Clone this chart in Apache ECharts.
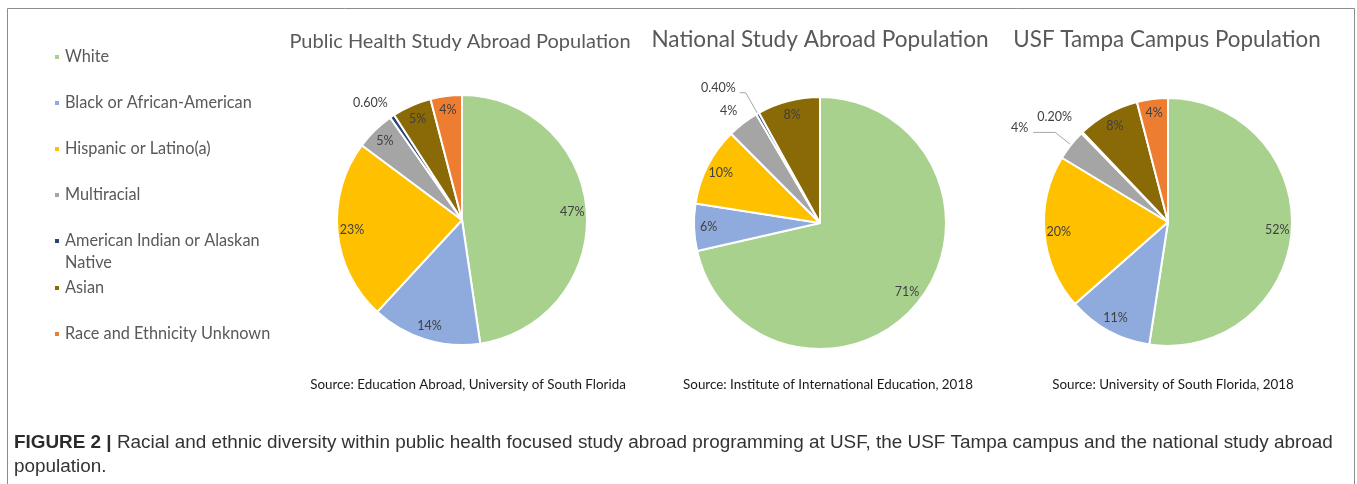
<!DOCTYPE html>
<html>
<head>
<meta charset="utf-8">
<title>Racial and ethnic diversity - study abroad</title>
<script src="https://cdn.jsdelivr.net/npm/echarts@6/dist/echarts.min.js"></script>
<style>
    html, body { margin: 0; padding: 0; background: #ffffff; }
    #main { width: 1357px; height: 484px; }
</style>
</head>
<body>
<div id="main"></div>
<script>
// categories (legend order) and values in percent
var categories = ['White', 'Black or African-American', 'Hispanic or Latino(a)', 'Multiracial',
    'American Indian or Alaskan Native', 'Asian', 'Race and Ethnicity Unknown'];
var publicHealthValues = [47, 14, 23, 5, 0.6, 5, 4];
var nationalValues = [71, 6, 10, 4, 0.4, 8, null];
var tampaValues = [52, 11, 20, 4, 0.2, 8, 4];

var chartTitles = ['Public Health Study Abroad Population', 'National Study Abroad Population', 'USF Tampa Campus Population'];
var sourceNotes = ['Source: Education Abroad, University of South Florida',
    'Source: Institute of International Education, 2018',
    'Source: University of South Florida, 2018'];
var captionBold = 'FIGURE 2 |';
var captionLines = [' Racial and ethnic diversity within public health focused study abroad programming at USF, the USF Tampa campus and the national study abroad',
    'population.'];

/////////////////////////////// styles ///////////////////////////////
var colors = ['#a9d18e', '#8faadc', '#ffc000', '#a5a5a5', '#264478', '#8a6a06', '#ed7d31'];
var fontFamily = 'Lato, "Open Sans", sans-serif';
var labelColor = '#404040';
var titleColor = '#595959';

// pie geometry (px) and the labels that sit outside the slice
// lift = how many px the text sits above the end of its leader line
var pies = [
    {values: publicHealthValues, center: [462, 220], r: 125, titleX: 460, titleY: 42, titleSize: 20, sourceX: 468,
        outside: {4: {length: 8, length2: 0, dist: 0, line: false, lift: 7}}},
    {values: nationalValues, center: [820, 223], r: 126, titleX: 820, titleY: 40, titleSize: 22.6, sourceX: 828,
        outside: {3: {length: 6, length2: 0, dist: 2, line: false, lift: 8},
                  4: {length: 24, length2: 6, dist: 4, line: true, lift: 5}}},
    {values: tampaValues, center: [1168, 222], r: 124, titleX: 1167, titleY: 40, titleSize: 22.4, sourceX: 1173,
        outside: {3: {length: 20, length2: 22, dist: 5, line: true, lift: 4},
                  4: {length: 10, length2: 0, dist: 3, line: false, lift: 8}}}
];

function pctText(v) {
    return (v < 1 ? v.toFixed(2) : String(v)) + '%';
}

var series = [];
for (var p = 0; p < pies.length; p++) {
    var pie = pies[p];
    var sliceData = [];
    var labelData = [];
    for (var i = 0; i < categories.length; i++) {
        var v = pie.values[i];
        if (v === null || v === undefined) continue;
        var out = pie.outside[i];
        var slice = {value: v, name: categories[i], itemStyle: {color: colors[i]}};
        if (out) {
            // trailing empty line pushes the text up by "lift" px
            slice.label = {
                show: true, position: 'outside', distanceToLabelLine: out.dist,
                lineHeight: out.lift * 2,
                formatter: function (params) { return pctText(params.value) + '\n '; }
            };
            slice.labelLine = {show: out.line, length: out.length, length2: out.length2};
        }
        sliceData.push(slice);
        labelData.push({value: v, name: categories[i], label: {show: !out}});
    }
    // the slices themselves
    series.push({
        type: 'pie',
        center: pie.center,
        radius: [0, pie.r],
        startAngle: 90,
        clockwise: true,
        avoidLabelOverlap: false,
        labelLayout: {hideOverlap: false},
        itemStyle: {borderColor: '#ffffff', borderWidth: 2},
        label: {
            show: false,
            color: labelColor, fontFamily: fontFamily, fontSize: 12.5
        },
        labelLine: {lineStyle: {color: '#a6a6a6', width: 1}, smooth: false},
        emphasis: {scale: false},
        data: sliceData
    });
    // transparent ring that carries the inside labels at ~0.86 r (Excel style)
    series.push({
        type: 'pie',
        center: pie.center,
        radius: [pie.r * 0.72, pie.r],
        startAngle: 90,
        clockwise: true,
        silent: true,
        avoidLabelOverlap: false,
        labelLayout: {hideOverlap: false},
        itemStyle: {color: 'rgba(0,0,0,0)', borderWidth: 0},
        label: {
            show: true, position: 'inside',
            color: labelColor, fontFamily: fontFamily, fontSize: 12.5,
            formatter: function (params) { return pctText(params.value); }
        },
        labelLine: {show: false},
        data: labelData
    });
}

// one legend per row so the two-line entry keeps the 46px rhythm
var legendRows = [55, 101, 147, 193, 240, 286, 332];
var legends = [];
for (var k = 0; k < categories.length; k++) {
    var twoLine = categories[k].indexOf('Alaskan Native') > -1;
    legends.push({
        left: 53,
        // box is centred on the icon; text box is taller than the 6px icon
        top: twoLine ? legendRows[k] - 32 : legendRows[k] - 8,
        padding: 0,
        icon: 'rect',
        itemWidth: 6,
        itemHeight: 6,
        itemGap: 0,
        orient: 'vertical',
        data: [categories[k]],
        // leading blank line keeps the first text line level with the icon
        formatter: function (name) {
            return name.indexOf('Alaskan Native') > -1 ? '\n' + name.replace('Alaskan Native', 'Alaskan\nNative') : name;
        },
        textStyle: {color: titleColor, fontFamily: fontFamily, fontSize: 16.3, lineHeight: twoLine ? 22 : 20}
    });
}

var graphics = [{
    type: 'rect', silent: true,
    shape: {x: 7.5, y: 8.5, width: 1347, height: 520},
    style: {fill: 'none', stroke: '#8c8c8c', lineWidth: 1}
}];
for (var t = 0; t < pies.length; t++) {
    graphics.push({
        type: 'text', x: pies[t].titleX, y: pies[t].titleY,
        style: {text: chartTitles[t], fill: titleColor, font: pies[t].titleSize + 'px ' + fontFamily,
            textAlign: 'center', textVerticalAlign: 'middle'}
    });
    graphics.push({
        type: 'text', x: pies[t].sourceX, y: 385,
        style: {text: sourceNotes[t], fill: '#1a1a1a', font: '13.4px ' + fontFamily,
            textAlign: 'center', textVerticalAlign: 'middle'}
    });
}
graphics.push({
    type: 'text', x: 14, y: 431,
    style: {
        text: '{b|' + captionBold + '}{n|' + captionLines[0] + '}\n{n|' + captionLines[1] + '}',
        textAlign: 'left', textVerticalAlign: 'top',
        rich: {
            b: {fontFamily: '"Liberation Sans", Arial, sans-serif', fontWeight: 'bold', fontSize: 18.9, fill: '#2b2b2b', lineHeight: 24},
            n: {fontFamily: '"Liberation Sans", Arial, sans-serif', fontSize: 18.9, fill: '#333333', lineHeight: 24}
        }
    }
});

var chart = echarts.init(document.getElementById('main'), null, {renderer: 'canvas'});
chart.setOption({
    backgroundColor: '#ffffff',
    animation: false,
    legend: legends,
    series: series,
    graphic: graphics
});
</script>
</body>
</html>
